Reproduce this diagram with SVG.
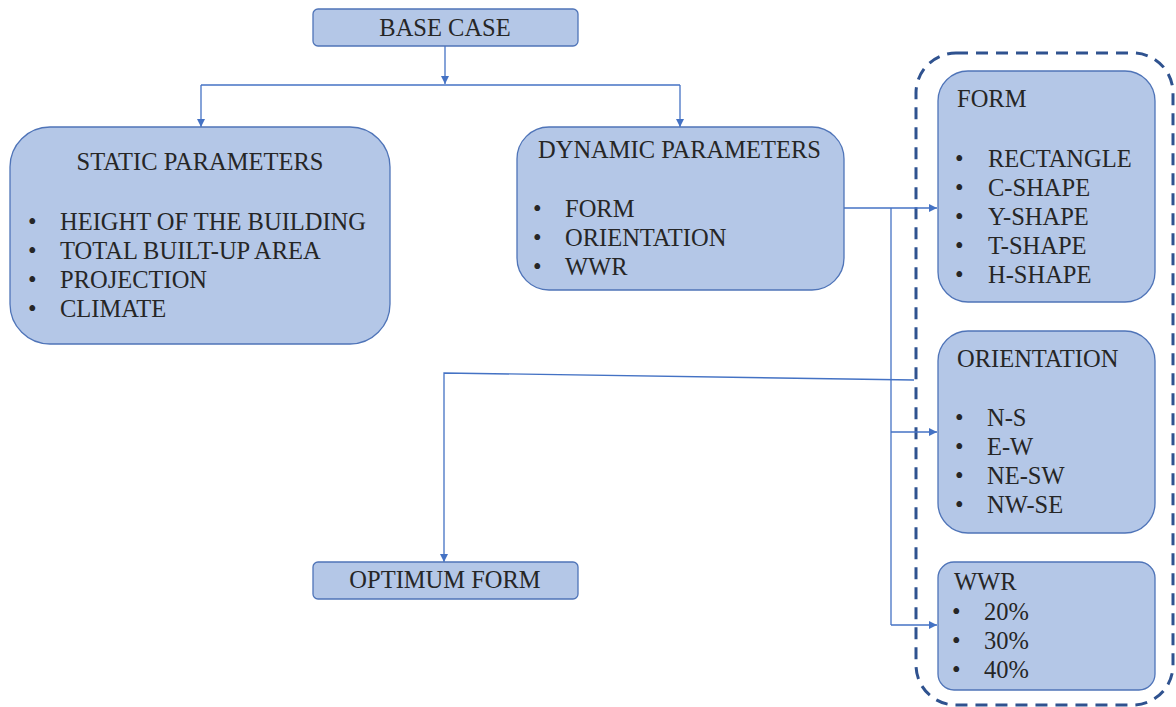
<svg xmlns="http://www.w3.org/2000/svg" width="1176" height="707" viewBox="0 0 1176 707">
<style>
.box{fill:#B4C7E7;stroke:#4F74B8;stroke-width:1.3}
.t{font-size:24.5px;fill:#262626}
.c{text-anchor:middle}
.ln{fill:none;stroke:#4472C4;stroke-width:1.3}
</style>
<defs>
<marker id="ah" viewBox="0 0 10 10" refX="10" refY="5" markerWidth="8" markerHeight="8" markerUnits="userSpaceOnUse" orient="auto">
<path d="M0,0 L10,5 L0,10 z" fill="#4472C4"/>
</marker>
</defs>
<rect width="1176" height="707" fill="#ffffff"/>
<g id="group-dashed">
<rect x="916" y="53" width="257" height="652" rx="40" fill="none" stroke="#2F528F" stroke-width="3" stroke-dasharray="12 8"/>
</g>
<g id="connectors">
<path class="ln" d="M445,46 V84" marker-end="url(#ah)"/>
<path class="ln" d="M201,85 H680"/>
<path class="ln" d="M201,85 V127" marker-end="url(#ah)"/>
<path class="ln" d="M680,85 V127" marker-end="url(#ah)"/>
<path class="ln" d="M844,208 H937" marker-end="url(#ah)"/>
<path class="ln" d="M891,208 V625"/>
<path class="ln" d="M891,432 H937" marker-end="url(#ah)"/>
<path class="ln" d="M891,625 H937" marker-end="url(#ah)"/>
<path class="ln" d="M914,380 L444,373 V562" marker-end="url(#ah)"/>
</g>
<g font-family="'Liberation Serif', 'Times New Roman', Times, serif">
<g id="base-case">
<rect class="box" x="313" y="9" width="265" height="37" rx="5"/>
<text class="t c" x="445" y="36">BASE CASE</text>
</g>
<g id="static-parameters">
<rect class="box" x="10" y="127" width="380" height="217" rx="40"/>
<text class="t c" x="200" y="170">STATIC PARAMETERS</text>
<text class="t" x="28" y="230">•</text><text class="t" x="60" y="230">HEIGHT OF THE BUILDING</text>
<text class="t" x="28" y="259">•</text><text class="t" x="60" y="259">TOTAL BUILT-UP AREA</text>
<text class="t" x="28" y="288">•</text><text class="t" x="60" y="288">PROJECTION</text>
<text class="t" x="28" y="317">•</text><text class="t" x="60" y="317">CLIMATE</text>
</g>
<g id="dynamic-parameters">
<rect class="box" x="517" y="127" width="327" height="163" rx="32"/>
<text class="t" x="538" y="158">DYNAMIC PARAMETERS</text>
<text class="t" x="533" y="217">•</text><text class="t" x="565" y="217">FORM</text>
<text class="t" x="533" y="246">•</text><text class="t" x="565" y="246">ORIENTATION</text>
<text class="t" x="533" y="275">•</text><text class="t" x="565" y="275">WWR</text>
</g>
<g id="form">
<rect class="box" x="938" y="71" width="217" height="231" rx="30"/>
<text class="t" x="957" y="107">FORM</text>
<text class="t" x="955" y="167">•</text><text class="t" x="988" y="167">RECTANGLE</text>
<text class="t" x="955" y="196">•</text><text class="t" x="988" y="196">C-SHAPE</text>
<text class="t" x="955" y="225">•</text><text class="t" x="988" y="225">Y-SHAPE</text>
<text class="t" x="955" y="254">•</text><text class="t" x="988" y="254">T-SHAPE</text>
<text class="t" x="955" y="283">•</text><text class="t" x="988" y="283">H-SHAPE</text>
</g>
<g id="orientation">
<rect class="box" x="938" y="331" width="217" height="202" rx="30"/>
<text class="t" x="957" y="367">ORIENTATION</text>
<text class="t" x="955" y="426">•</text><text class="t" x="987" y="426">N-S</text>
<text class="t" x="955" y="455">•</text><text class="t" x="987" y="455">E-W</text>
<text class="t" x="955" y="484">•</text><text class="t" x="987" y="484">NE-SW</text>
<text class="t" x="955" y="513">•</text><text class="t" x="987" y="513">NW-SE</text>
</g>
<g id="wwr">
<rect class="box" x="938" y="562" width="217" height="128" rx="16"/>
<text class="t" x="954" y="590">WWR</text>
<text class="t" x="952" y="620">•</text><text class="t" x="984" y="620">20%</text>
<text class="t" x="952" y="649">•</text><text class="t" x="984" y="649">30%</text>
<text class="t" x="952" y="678">•</text><text class="t" x="984" y="678">40%</text>
</g>
<g id="optimum-form">
<rect class="box" x="313" y="562" width="265" height="37" rx="5"/>
<text class="t c" x="445" y="588">OPTIMUM FORM</text>
</g>
</g>
</svg>
